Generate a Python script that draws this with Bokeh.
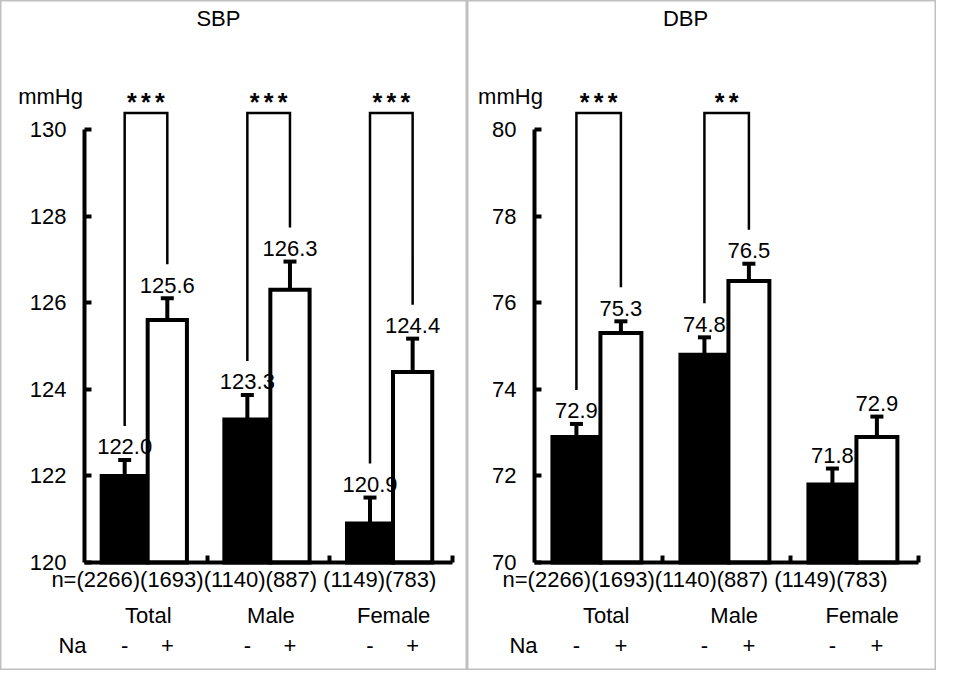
from bokeh.plotting import figure
from bokeh.models import LinearAxis, FixedTicker, Range1d
from bokeh.layouts import row
from bokeh.embed import file_html
from bokeh.resources import INLINE
from bokeh.core.properties import value

# ---------------- data ----------------
groups = ["Total", "Male", "Female"]
na_labels = ["-", "+"]
n_minus = [2266, 1140, 1149]
n_plus = [1693, 887, 783]

sbp_minus = [122.0, 123.3, 120.9]
sbp_minus_se = [0.37, 0.57, 0.60]
sbp_plus = [125.6, 126.3, 124.4]
sbp_plus_se = [0.50, 0.65, 0.77]
sbp_sig = ["***", "***", "***"]
sbp_ticks = [120, 122, 124, 126, 128, 130]

dbp_minus = [72.9, 74.8, 71.8]
dbp_minus_se = [0.30, 0.40, 0.37]
dbp_plus = [75.3, 76.5, 72.9]
dbp_plus_se = [0.27, 0.40, 0.47]
dbp_sig = ["***", "**", ""]
dbp_ticks = [70, 72, 74, 76, 78, 80]

# ---------------- style / layout ----------------
FONT = "Liberation Sans"
FS = "22px"
H = 670
PPY = 43.3          # pixels per y unit
Y_TOP_PX = 129      # pixel row of top tick
BASE_PX = 562       # pixel row of baseline
BLACK_L, BLACK_R, WHITE_R = 0.14, 0.515, 0.835


def make_panel(title, ticks, minus, minus_se, plus, plus_se, sig, width,
               x0_px, x3_px, n_x, na_x, unit_x, title_x, group_dx):
    base, ymax = ticks[0], ticks[-1]
    ppx = (x3_px - x0_px) / 3.0
    xr = Range1d(-x0_px / ppx, (width - x0_px) / ppx)
    yr = Range1d(base - (H - BASE_PX) / PPY, ymax + Y_TOP_PX / PPY)
    p = figure(width=width, height=H, x_range=xr, y_range=yr,
               x_axis_type=None, y_axis_type=None, toolbar_location=None,
               output_backend="svg", min_border=0, title=None,
               outline_line_color="#c0c0c0", outline_line_width=2,
               background_fill_color="white", border_fill_color="white")

    idx = list(range(len(groups)))
    bl = [i + BLACK_L for i in idx]
    br = [i + BLACK_R for i in idx]
    wr = [i + WHITE_R for i in idx]
    bc = [(a + b) / 2 for a, b in zip(bl, br)]
    wc = [(a + b) / 2 for a, b in zip(br, wr)]

    p.quad(left=bl, right=br, bottom=base, top=minus, fill_color="black",
           line_color="black", line_width=4, line_join="miter")
    p.quad(left=br, right=wr, bottom=base, top=plus, fill_color="white",
           line_color="black", line_width=4, line_join="miter")

    # error bars
    half = 6.5 / ppx
    mt = [v + e for v, e in zip(minus, minus_se)]
    pt = [v + e for v, e in zip(plus, plus_se)]
    xs_all = bc + wc
    vals_all = minus + plus
    tops_all = mt + pt
    p.segment(x0=xs_all, y0=vals_all, x1=xs_all, y1=tops_all,
              line_color="black", line_width=4)
    p.segment(x0=[x - half for x in xs_all], y0=tops_all,
              x1=[x + half for x in xs_all], y1=tops_all,
              line_color="black", line_width=4)

    # value labels
    p.text(x=xs_all, y=[t + 13 / PPY for t in tops_all],
           text=[f"{v:.1f}" for v in vals_all],
           text_font=value(FONT), text_font_size=FS, text_align="center",
           text_baseline="alphabetic", text_color="black")

    # significance brackets
    top = ymax + 0.38
    bxs, bys, sx, sy, st = [], [], [], [], []
    for i in idx:
        if sig[i]:
            bxs.append([bc[i], bc[i], wc[i], wc[i]])
            bys.append([mt[i] + 34 / PPY, top, top, pt[i] + 34 / PPY])
            mid = (bc[i] + wc[i]) / 2
            k = len(sig[i])
            for j, ch in enumerate(sig[i]):
                sx.append(mid + (j - (k - 1) / 2) * 14 / ppx)
                sy.append(top + 11 / PPY)
                st.append(ch)
    p.multi_line(xs=bxs, ys=bys, line_color="black", line_width=2.5,
                 line_join="miter")
    p.text(x=sx, y=sy, text=st, text_font=value(FONT), text_font_size="25px",
           text_font_style="bold", text_align="center",
           text_baseline="alphabetic", text_color="black")

    # axes
    yax = LinearAxis(fixed_location=0, bounds=(base, ymax),
                     ticker=FixedTicker(ticks=ticks),
                     axis_line_width=4, axis_line_color="black",
                     major_tick_line_width=4, major_tick_line_color="black",
                     major_tick_in=7, major_tick_out=0,
                     minor_tick_line_color=None,
                     major_label_text_font=FONT, major_label_text_font_size=FS,
                     major_label_text_color="black", major_label_standoff=18)
    p.add_layout(yax, "left")
    xax = LinearAxis(fixed_location=base, bounds=(0, 3),
                     ticker=FixedTicker(ticks=[1, 2, 3]),
                     axis_line_width=4, axis_line_color="black",
                     major_tick_line_width=4, major_tick_line_color="black",
                     major_tick_in=7, major_tick_out=0,
                     minor_tick_line_color=None,
                     major_label_overrides={1: "", 2: "", 3: ""})
    p.add_layout(xax, "below")

    # texts outside the data area
    n_text = "n=" + "".join(
        (" " if i == 2 else "") + f"({n_minus[i]})({n_plus[i]})" for i in idx)
    p.text(x=[n_x], y=[base - 17 / PPY], text=[n_text], text_font=value(FONT),
           text_font_size=FS, text_align="left", text_baseline="middle",
           text_color="black")
    p.text(x=[i + group_dx for i in idx], y=[base - 53 / PPY] * 3, text=groups,
           text_font=value(FONT), text_font_size=FS, text_align="center",
           text_baseline="middle", text_color="black")
    p.text(x=[na_x] + bc + wc, y=[base - 83 / PPY] * 7,
           text=["Na"] + [na_labels[0]] * 3 + [na_labels[1]] * 3,
           text_font=value(FONT), text_font_size=FS, text_align="center",
           text_baseline="middle", text_color="black")
    p.text(x=[unit_x], y=[ymax + 0.76], text=["mmHg"], text_font=value(FONT),
           text_font_size=FS, text_align="center", text_baseline="middle",
           text_color="black")
    p.text(x=[title_x], y=[ymax + 2.56], text=[title], text_font=value(FONT),
           text_font_size=FS, text_align="center", text_baseline="middle",
           text_color="black")
    return p


p1 = make_panel("SBP", sbp_ticks, sbp_minus, sbp_minus_se, sbp_plus, sbp_plus_se,
                sbp_sig, 467, 84, 452, -0.27, -0.098, -0.277, 1.092, 0.52)
p2 = make_panel("DBP", dbp_ticks, dbp_minus, dbp_minus_se, dbp_plus, dbp_plus_se,
                dbp_sig, 469, 67, 451, -0.25, -0.086, -0.1875, 1.18, 0.56)

layout = row(p1, p2, spacing=0)
open("out.html", "w").write(file_html(layout, INLINE))
